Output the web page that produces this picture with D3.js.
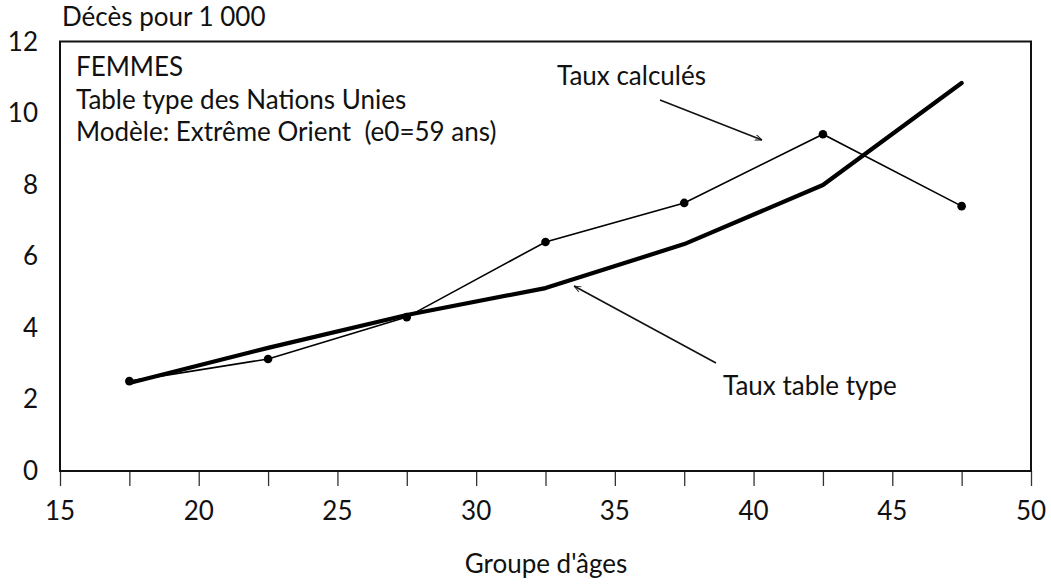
<!DOCTYPE html>
<html><head><meta charset="utf-8">
<script src="https://cdn.jsdelivr.net/npm/d3@7"></script>
<style>body{margin:0;background:#fff}svg{display:block}text{font-family:Lato,"Open Sans",sans-serif;fill:#111;white-space:pre}</style>
</head><body><svg id="c" width="1051" height="586"></svg>
<script>
const ages = [17.5, 22.5, 27.5, 32.5, 37.5, 42.5, 47.5];
const tauxCalcules = [2.51, 3.13, 4.30, 6.40, 7.49, 9.41, 7.40];
const tauxTableType = [2.46, 3.44, 4.36, 5.11, 6.34, 7.99, 10.84];
const xTicks = [15, 20, 25, 30, 35, 40, 45, 50];
const xMinorTicks = [17.5, 22.5, 27.5, 32.5, 37.5, 42.5, 47.5];
const yTicks = [0, 2, 4, 6, 8, 10, 12];
const titleLines = ["FEMMES", "Table type des Nations Unies", "Modèle: Extrême Orient  (e0=59 ans)"];

const svg = d3.select("#c");
const x = d3.scaleLinear().domain([15, 50]).range([60, 1031]);
const y = d3.scaleLinear().domain([0, 12]).range([471, 41.5]);
const fs = 26;

svg.append("defs").append("marker").attr("id","arr").attr("viewBox","0 0 10 10")
  .attr("refX",10).attr("refY",5).attr("markerWidth",7).attr("markerHeight",7)
  .attr("orient","auto").attr("markerUnits","userSpaceOnUse")
  .append("path").attr("d","M0,1 L10,5 L0,9").attr("fill","none").attr("stroke","#111").attr("stroke-width",1.3);

// x axis ticks
const xa = svg.append("g").attr("transform",`translate(0,${y(0)})`)
  .call(d3.axisBottom(x).tickValues(xTicks.concat(xMinorTicks)).tickSize(15).tickFormat(""));
xa.select(".domain").remove();
xa.selectAll(".tick line").attr("stroke","#333").attr("stroke-width",1.3);
svg.append("g").selectAll("text").data(xTicks).join("text")
  .attr("x",d=>x(d)).attr("y",520).attr("text-anchor","middle").attr("font-size",fs).text(d=>d);
svg.append("g").selectAll("text").data(yTicks).join("text")
  .attr("x",38).attr("y",d=>y(d)+9).attr("text-anchor","end").attr("font-size",fs).text(d=>d);

// frame
svg.append("rect").attr("x",x(15)).attr("y",y(12)).attr("width",x(50)-x(15)).attr("height",y(0)-y(12))
  .attr("fill","none").attr("stroke","#111").attr("stroke-width",2);

svg.append("text").attr("x",62).attr("y",26).attr("font-size",fs).text("Décès pour 1 000");
svg.append("text").attr("x",546).attr("y",573).attr("text-anchor","middle").attr("font-size",fs).text("Groupe d'âges");

svg.append("g").selectAll("text").data(titleLines).join("text")
  .attr("x",76).attr("y",(d,i)=>76+i*32.5).attr("font-size",fs).text(d=>d);

const line = d3.line().x(d=>x(d[0])).y(d=>y(d[1]));
svg.append("path").datum(ages.map((a,i)=>[a,tauxTableType[i]])).attr("d",line)
  .attr("fill","none").attr("stroke","#000").attr("stroke-width",4.2).attr("stroke-linejoin","round").attr("stroke-linecap","round");
svg.append("path").datum(ages.map((a,i)=>[a,tauxCalcules[i]])).attr("d",line)
  .attr("fill","none").attr("stroke","#000").attr("stroke-width",1.6);
svg.append("g").selectAll("circle").data(ages.map((a,i)=>[a,tauxCalcules[i]])).join("circle")
  .attr("cx",d=>x(d[0])).attr("cy",d=>y(d[1])).attr("r",4.3).attr("fill","#000");

// annotations
svg.append("text").attr("x",557).attr("y",85).attr("font-size",fs).text("Taux calculés");
svg.append("line").attr("x1",660).attr("y1",100).attr("x2",762).attr("y2",140)
  .attr("stroke","#111").attr("stroke-width",1.6).attr("marker-end","url(#arr)");
svg.append("text").attr("x",723).attr("y",395).attr("font-size",fs).text("Taux table type");
svg.append("line").attr("x1",716).attr("y1",363).attr("x2",574).attr("y2",286)
  .attr("stroke","#111").attr("stroke-width",1.6).attr("marker-end","url(#arr)");
</script></body></html>
